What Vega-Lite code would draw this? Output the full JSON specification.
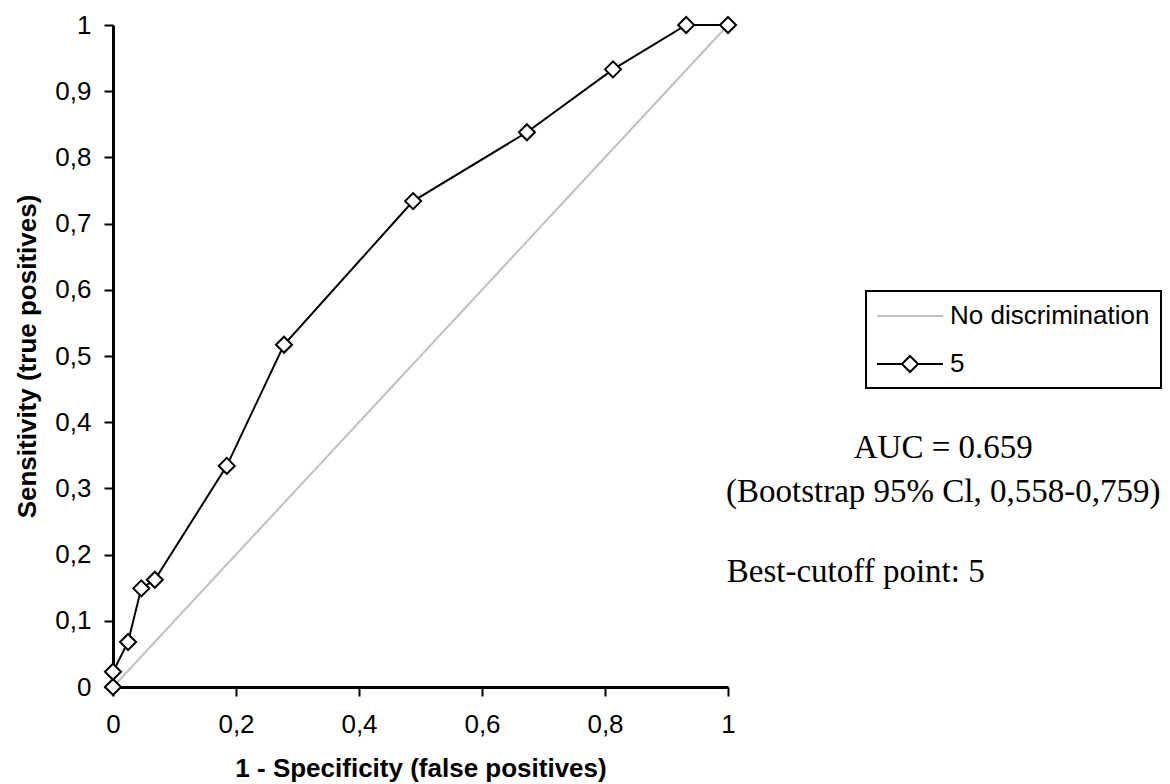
{
  "$schema": "https://vega.github.io/schema/vega-lite/v6.json",
  "width": 615,
  "height": 662,
  "autosize": {"type": "none"},
  "padding": {"left": 113, "top": 25, "right": 442, "bottom": 97},
  "background": "white",
  "config": {
    "view": {"stroke": null},
    "font": "Liberation Sans",
    "axis": {
      "grid": false,
      "domainColor": "black",
      "domainWidth": 3,
      "tickColor": "black",
      "tickWidth": 2,
      "tickSize": 9,
      "labelColor": "black",
      "labelFont": "Liberation Sans",
      "labelFontSize": 26,
      "labelFlush": false,
      "labelOverlap": false,
      "titleColor": "black",
      "titleFont": "Liberation Sans",
      "titleFontSize": 26,
      "titleFontWeight": "bold"
    }
  },
  "datasets": {
    "roc": [
      {"i": 0, "fpr": 0, "tpr": 0, "series": "5"},
      {"i": 1, "fpr": 0, "tpr": 0.023, "series": "5"},
      {"i": 2, "fpr": 0.0245, "tpr": 0.068, "series": "5"},
      {"i": 3, "fpr": 0.046, "tpr": 0.149, "series": "5"},
      {"i": 4, "fpr": 0.068, "tpr": 0.162, "series": "5"},
      {"i": 5, "fpr": 0.185, "tpr": 0.334, "series": "5"},
      {"i": 6, "fpr": 0.278, "tpr": 0.517, "series": "5"},
      {"i": 7, "fpr": 0.488, "tpr": 0.734, "series": "5"},
      {"i": 8, "fpr": 0.673, "tpr": 0.838, "series": "5"},
      {"i": 9, "fpr": 0.813, "tpr": 0.933, "series": "5"},
      {"i": 10, "fpr": 0.932, "tpr": 1, "series": "5"},
      {"i": 11, "fpr": 1, "tpr": 1, "series": "5"}
    ],
    "diag": [
      {"i": 0, "fpr": 0, "tpr": 0, "series": "No discrimination"},
      {"i": 1, "fpr": 1, "tpr": 1, "series": "No discrimination"}
    ],
    "notes": [
      {"note": "AUC = 0.659"},
      {"note": "(Bootstrap 95%  Cl, 0,558-0,759)"},
      {"note": "Best-cutoff point: 5"}
    ]
  },
  "layer": [
    {
      "data": {"name": "diag"},
      "mark": {"type": "line", "strokeWidth": 2},
      "encoding": {
        "x": {
          "field": "fpr",
          "type": "quantitative",
          "scale": {"domain": [0, 1], "nice": false, "zero": false},
          "axis": {
            "title": "1 - Specificity (false positives)",
            "values": [0, 0.2, 0.4, 0.6, 0.8, 1],
            "labelExpr": "replace(toString(datum.value), '.', ',')",
            "labelPadding": 15,
            "titlePadding": 18
          }
        },
        "y": {
          "field": "tpr",
          "type": "quantitative",
          "scale": {"domain": [0, 1], "nice": false, "zero": false},
          "axis": {
            "title": "Sensitivity (true positives)",
            "values": [0, 0.1, 0.2, 0.3, 0.4, 0.5, 0.6, 0.7, 0.8, 0.9, 1],
            "labelExpr": "replace(toString(datum.value), '.', ',')",
            "labelPadding": 13,
            "titlePadding": 14
          }
        },
        "order": {"field": "i", "type": "quantitative"},
        "stroke": {
          "field": "series",
          "type": "nominal",
          "scale": {"domain": ["No discrimination", "5"], "range": ["#c0c0c0", "#000000"]},
          "legend": {
            "title": null,
            "orient": "none",
            "legendX": 753,
            "legendY": 266,
            "padding": 11,
            "strokeColor": "black",
            "labelFont": "Liberation Sans",
            "labelFontSize": 26,
            "labelColor": "black",
            "labelLimit": 400,
            "labelOffset": 26,
            "symbolOffset": 19,
            "rowPadding": 21,
            "symbolType": "stroke",
            "symbolSize": 676,
            "symbolStrokeWidth": 2,
            "symbolFillColor": "white",
            "encode": {
              "legend": {"update": {"strokeWidth": {"value": 2}}},
              "symbols": {
                "update": {
                  "shape": {"signal": "datum.value === '5' ? 'M-2.54,0L-0.62,0M0.62,0L2.54,0M-0.62,0L0,-0.62L0.62,0L0,0.62Z' : 'M-2.54,0L2.54,0'"},
                  "fill": {"value": "white"}
                }
              }
            }
          }
        }
      }
    },
    {
      "data": {"name": "roc"},
      "mark": {"type": "line", "strokeWidth": 2},
      "encoding": {
        "x": {"field": "fpr", "type": "quantitative"},
        "y": {"field": "tpr", "type": "quantitative"},
        "order": {"field": "i", "type": "quantitative"},
        "stroke": {"field": "series", "type": "nominal"}
      }
    },
    {
      "data": {"name": "roc"},
      "mark": {"type": "point", "shape": "diamond", "filled": true, "fill": "white", "stroke": "black", "strokeWidth": 2, "size": 256, "opacity": 1},
      "encoding": {
        "x": {"field": "fpr", "type": "quantitative"},
        "y": {"field": "tpr", "type": "quantitative"}
      }
    },
    {
      "data": {"name": "notes"},
      "transform": [{"filter": "datum.note === 'AUC = 0.659'"}],
      "mark": {"type": "text", "font": "Liberation Serif", "fontSize": 33, "align": "center", "baseline": "middle", "fill": "black"},
      "encoding": {
        "x": {"datum": 1.35},
        "y": {"datum": 0.361},
        "text": {"field": "note", "type": "nominal"}
      }
    },
    {
      "data": {"name": "notes"},
      "transform": [{"filter": "indexof(datum.note, 'Bootstrap') >= 0"}],
      "mark": {"type": "text", "font": "Liberation Serif", "fontSize": 33, "align": "center", "baseline": "middle", "fill": "black"},
      "encoding": {
        "x": {"datum": 1.35},
        "y": {"datum": 0.2946},
        "text": {"field": "note", "type": "nominal"}
      }
    },
    {
      "data": {"name": "notes"},
      "transform": [{"filter": "indexof(datum.note, 'Best') >= 0"}],
      "mark": {"type": "text", "font": "Liberation Serif", "fontSize": 33, "align": "left", "baseline": "middle", "fill": "black"},
      "encoding": {
        "x": {"datum": 0.998},
        "y": {"datum": 0.1737},
        "text": {"field": "note", "type": "nominal"}
      }
    }
  ]
}
